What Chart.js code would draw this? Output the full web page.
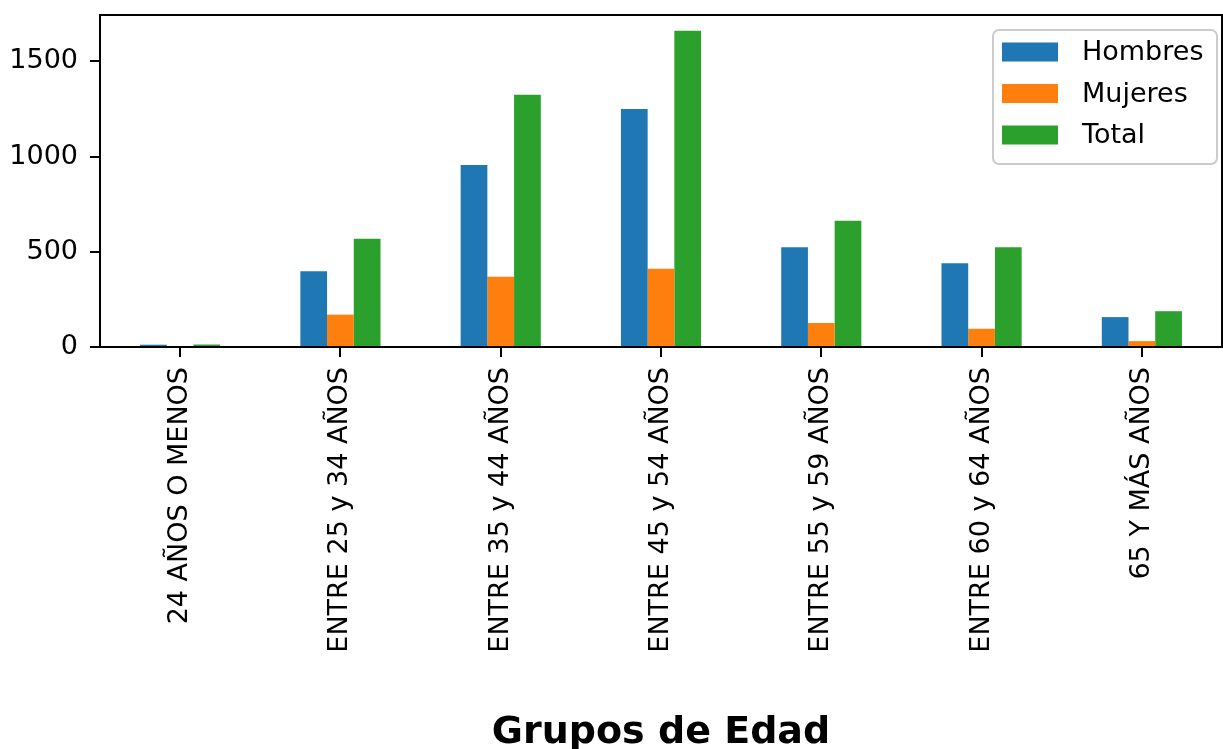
<!DOCTYPE html>
<html>
<head>
<meta charset="utf-8">
<script src="https://cdn.jsdelivr.net/npm/chart.js@4"></script>
<style>
  html, body { margin: 0; padding: 0; background: #fff; }
  canvas { display: block; }
</style>
</head>
<body>
<canvas id="edadChart" width="1223" height="749"></canvas>
<script>
const categories = ['24 AÑOS O MENOS', 'ENTRE 25 y 34 AÑOS', 'ENTRE 35 y 44 AÑOS', 'ENTRE 45 y 54 AÑOS',
    'ENTRE 55 y 59 AÑOS', 'ENTRE 60 y 64 AÑOS', '65 Y MÁS AÑOS'];
const hombres = [12, 398, 956, 1250, 524, 440, 157];
const mujeres = [1, 170, 369, 411, 126, 96, 31];
const total = [13, 568, 1325, 1661, 663, 524, 188];
const yTicks = [0, 500, 1000, 1500];

const FONT = "'DejaVu Sans', sans-serif";

// frame around the plot area, like matplotlib spines
const framePlugin = {
    id: 'frame',
    afterDraw(chart) {
        const { ctx, chartArea: a } = chart;
        ctx.save();
        ctx.strokeStyle = '#000';
        ctx.lineWidth = 2;
        ctx.strokeRect(a.left, a.top, a.right - a.left, a.bottom - a.top);
        ctx.restore();
    }
};

// legend box in the upper right corner of the plot
const boxLegend = {
    id: 'boxLegend',
    afterDraw(chart) {
        const { ctx, chartArea: a } = chart;
        const sets = chart.data.datasets;
        const boxX = a.right - 229, boxY = a.top + 15, boxW = 224, boxH = 134;
        ctx.save();
        ctx.fillStyle = 'rgba(255,255,255,0.8)';
        ctx.strokeStyle = '#cccccc';
        ctx.lineWidth = 2;
        ctx.beginPath();
        ctx.roundRect(boxX, boxY, boxW, boxH, 6);
        ctx.fill();
        ctx.stroke();
        ctx.font = '27px ' + FONT;
        ctx.textBaseline = 'middle';
        sets.forEach((ds, i) => {
            const cy = boxY + 22 + i * 41.5;
            ctx.fillStyle = ds.backgroundColor;
            ctx.fillRect(boxX + 9, cy - 9.5, 56, 19);
            ctx.fillStyle = '#000';
            ctx.fillText(ds.label, boxX + 89, cy + 1);
        });
        ctx.restore();
    }
};

const ctx = document.getElementById('edadChart').getContext('2d');
new Chart(ctx, {
    type: 'bar',
    data: {
        labels: categories,
        datasets: [
            { label: 'Hombres', data: hombres, backgroundColor: '#1f77b4' },
            { label: 'Mujeres', data: mujeres, backgroundColor: '#ff7f0e' },
            { label: 'Total', data: total, backgroundColor: '#2ca02c' }
        ]
    },
    options: {
        responsive: false,
        animation: false,
        devicePixelRatio: 1,
        layout: { padding: { top: 15, right: 1, left: 0, bottom: 0 } },
        datasets: { bar: { categoryPercentage: 0.5, barPercentage: 1.0, borderWidth: 0 } },
        plugins: {
            legend: { display: false },
            tooltip: { enabled: false }
        },
        scales: {
            x: {
                border: { display: false },
                grid: { display: true, offset: false, drawOnChartArea: false, drawTicks: true,
                        tickLength: 10, color: '#000', lineWidth: 2 },
                ticks: { autoSkip: false, minRotation: 90, maxRotation: 90, padding: 10,
                         color: '#000', font: { family: FONT, size: 27 } },
                title: { display: true, text: 'Grupos de Edad', color: '#000',
                         font: { family: FONT, size: 38, weight: 'bold', lineHeight: 1 },
                         padding: { top: 0, bottom: -3 } },
                afterFit(scale) {
                    scale.height = 402;
                    scale.paddingLeft = 0;
                    scale.paddingRight = 0;
                }
            },
            y: {
                min: 0,
                max: Math.max(...total) * 1.05,
                border: { display: false },
                grid: { display: true, drawOnChartArea: false, drawTicks: true,
                        tickLength: 10, color: '#000', lineWidth: 2 },
                afterBuildTicks(scale) { scale.ticks = yTicks.map(v => ({ value: v })); },
                ticks: { padding: 12, color: '#000', font: { family: FONT, size: 27 },
                         callback: v => String(v) },
                afterFit(scale) {
                    scale.width = 100;
                    scale.paddingTop = 0;
                    scale.paddingBottom = 0;
                }
            }
        }
    },
    plugins: [framePlugin, boxLegend]
});
</script>
</body>
</html>
